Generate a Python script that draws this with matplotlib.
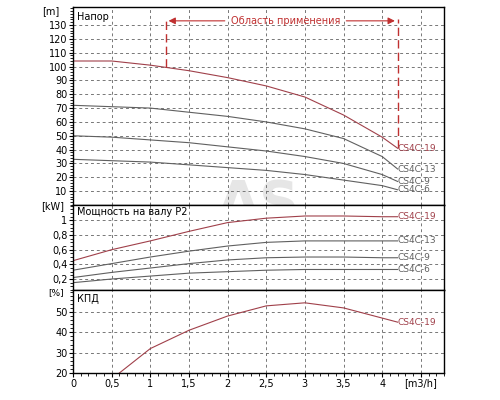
import matplotlib
matplotlib.use("Agg")
import matplotlib.pyplot as plt
import numpy as np

q = [0, 0.5, 1.0, 1.5, 2.0, 2.5, 3.0, 3.5, 4.0, 4.2]
head_19 = [104, 104, 101, 97, 92, 86, 78, 65, 49, 41]
head_13 = [72, 71, 70, 67, 64, 60, 55, 48, 35, 26]
head_9 = [50, 49, 47, 45, 42, 39, 35, 30, 22, 17]
head_6 = [33, 32, 31, 29, 27, 25, 22, 18, 14, 11]
pow_19 = [0.45, 0.60, 0.72, 0.85, 0.97, 1.03, 1.06, 1.06, 1.05, 1.05]
pow_13 = [0.32, 0.41, 0.50, 0.58, 0.65, 0.70, 0.72, 0.72, 0.72, 0.72]
pow_9 = [0.22, 0.29, 0.35, 0.41, 0.46, 0.49, 0.50, 0.50, 0.49, 0.49]
pow_6 = [0.15, 0.20, 0.24, 0.28, 0.30, 0.32, 0.33, 0.33, 0.33, 0.33]
q_eff = [0.6, 1.0, 1.5, 2.0, 2.5, 3.0, 3.5, 4.0, 4.2]
eff_19 = [20, 32, 41, 48, 53, 54.5, 52, 47, 45]
labels = ["CS4C-19", "CS4C-13", "CS4C-9", "CS4C-6"]
range_q = [1.2, 4.2]

RED = "#a0404a"; GRAY = "#606060"
fig = plt.figure(figsize=(5, 4), dpi=100)
axes = [fig.add_axes([0.146, 0.4875, 0.742, 0.495]),
        fig.add_axes([0.146, 0.275, 0.742, 0.2125]),
        fig.add_axes([0.146, 0.0675, 0.742, 0.2075])]
for ax in axes:
    ax.set_xlim(0, 4.8)
    ax.set_xticks(np.arange(0, 4.6, 0.5))
    ax.grid(True, ls=(0, (3, 3)), color="#777", lw=0.7)
    ax.tick_params(labelsize=7, length=3, pad=1)
    ax.minorticks_on()
    ax.tick_params(which="minor", length=2)
    for s in ax.spines.values():
        s.set_linewidth(1.0)
fmt = lambda v: ("%g" % v).replace(".", ",")
ax1, ax2, ax3 = axes
ax1.set_ylim(0, 143)
ax1.set_yticks(range(10, 140, 10))
ax1.set_xticklabels([])
colors = [RED, GRAY, GRAY, GRAY]
for data, lab, c in zip([head_19, head_13, head_9, head_6], labels, colors):
    ax1.plot(q, data, color=c, lw=0.8)
    ax1.text(q[-1], data[-1], lab, color=c, fontsize=6.5, va="center")
ax1.text(0.05, 136, "Напор", fontsize=7, va="center")
ax1.text(-0.17, 140, "[m]", fontsize=7, ha="right", va="center")
ax1.plot([range_q[0]]*2, [head_19[2] - 1, 134], color="#c03030", ls=(0, (6, 3)), lw=1)
ax1.plot([range_q[1]]*2, [head_19[-1], 134], color="#c03030", ls=(0, (6, 3)), lw=1)
ax1.annotate("", xy=(range_q[0], 133), xytext=(2.0, 133),
             arrowprops=dict(arrowstyle="-|>", color="#c03030", lw=0.8))
ax1.annotate("", xy=(range_q[1], 133), xytext=(3.5, 133),
             arrowprops=dict(arrowstyle="-|>", color="#c03030", lw=0.8))
ax1.text(2.75, 133, "Область применения", color="#c03030", fontsize=7, ha="center", va="center")
ax1.text(2.4, 0, "AS", color="#e6e6e6", fontsize=40, ha="center", va="center", zorder=0, fontweight="bold")

ax2.set_ylim(0.05, 1.21)
ax2.set_yticks([0.2, 0.4, 0.6, 0.8, 1.0])
ax2.set_yticklabels([fmt(v) for v in [0.2, 0.4, 0.6, 0.8, 1.0]])
ax2.set_xticklabels([])
for data, lab, c in zip([pow_19, pow_13, pow_9, pow_6], labels, colors):
    ax2.plot(q, data, color=c, lw=0.8)
    ax2.text(q[-1], data[-1], lab, color=c, fontsize=6.5, va="center")
ax2.text(0.05, 1.12, "Мощность на валу P2", fontsize=7, va="center")
ax2.text(-0.12, 1.2, "[kW]", fontsize=7, ha="right", va="center")

ax3.set_ylim(20, 60.8)
ax3.set_yticks([20, 30, 40, 50])
ax3.plot(q_eff, eff_19, color=RED, lw=0.8)
ax3.text(q_eff[-1], eff_19[-1], labels[0], color=RED, fontsize=6.5, va="center")
ax3.text(0.05, 56.5, "КПД", fontsize=7, va="center")
ax3.text(-0.12, 59.5, "[%]", fontsize=6.5, ha="right", va="center")
ax3.set_xticklabels([fmt(v) for v in np.arange(0, 4.1, 0.5)] + ["[m3/h]"])
fig.savefig("out.png", dpi=100)
